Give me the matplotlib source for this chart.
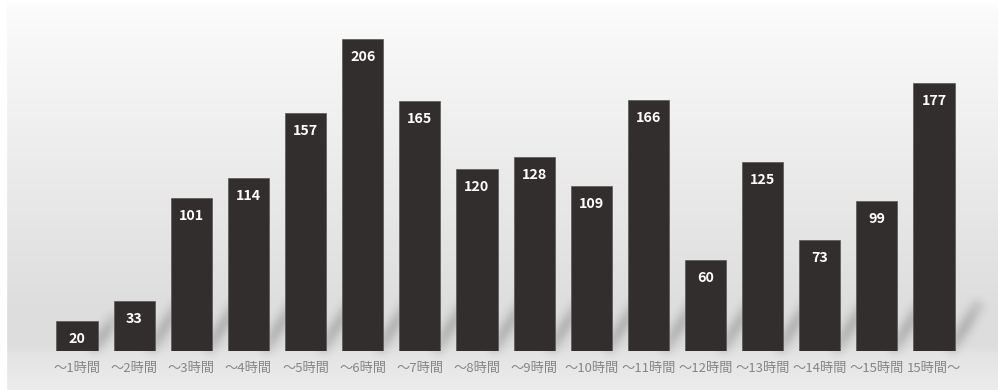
import numpy as np
import matplotlib.pyplot as plt
from matplotlib.colors import LinearSegmentedColormap

plt.rcParams['font.family'] = ['Noto Sans CJK JP', 'DejaVu Sans']

# data
categories = ['～1時間', '～2時間', '～3時間', '～4時間', '～5時間', '～6時間', '～7時間', '～8時間',
              '～9時間', '～10時間', '～11時間', '～12時間', '～13時間', '～14時間', '～15時間', '15時間～']
values = [20, 33, 101, 114, 157, 206, 165, 120, 128, 109, 166, 60, 125, 73, 99, 177]

W, H = 998, 390
fig = plt.figure(figsize=(W / 100, H / 100), dpi=100)

# background gradient
bg = fig.add_axes([0, 0, 1, 1], zorder=0)
grad_cmap = LinearSegmentedColormap.from_list('bg', [
    (0.0, '#ffffff'), (0.02, '#fbfbfb'), (0.35, '#eeeeee'), (0.78, '#dedede'),
    (0.89, '#dddddd'), (0.91, '#e4e4e4'), (1.0, '#ececec')])
bg.imshow(np.linspace(0, 1, 390).reshape(-1, 1), aspect='auto', cmap=grad_cmap,
          extent=[0, 1, 0, 1], origin='upper')
bg.add_patch(plt.Rectangle((0, 0), 0.006, 1, color='white'))
bg.set_xlim(0, 1)
bg.set_ylim(0, 1)
bg.axis('off')

ax = fig.add_axes([0, 0.1, 1, 0.9], zorder=1)
ax.patch.set_alpha(0)
x = np.arange(len(values))
width = 0.72

ax.bar(x, values, width=width, color='#322e2d', edgecolor='#5a5655', linewidth=0.5, zorder=2)

for xi, v in zip(x, values):
    ax.text(xi, v - 11.9, str(v), ha='center', va='center', color='white',
            fontsize=10.3, fontweight='bold', zorder=3)

ax.set_xlim(-1.348, 16.12)
ax.set_ylim(0, 231.7)
ax.set_xticks(x)
ax.set_xticklabels(categories, fontsize=9.5, color='#858585')
ax.tick_params(axis='x', length=0, pad=8)
ax.set_yticks([])
for sp in ax.spines.values():
    sp.set_visible(False)

# soft diagonal shadow streaks to the right of each bar (drawn in pixel space)
yy, xx = np.mgrid[0:H, 0:W] + 0.5
shade = np.zeros((H, W))
for xi, v in zip(x, values):
    px0, py0 = ax.transData.transform((xi + width / 2, 0))
    _, ptop = ax.transData.transform((xi, v))
    dy = min(ptop - py0, 44)
    ax_, ay_ = px0 - 2, py0 + 4
    bx_, by_ = px0 + 0.5 * dy, py0 + dy
    vx, vy = bx_ - ax_, by_ - ay_
    t = np.clip(((xx - ax_) * vx + (yy - ay_) * vy) / (vx * vx + vy * vy), 0, 1)
    d2 = (xx - ax_ - t * vx) ** 2 + (yy - ay_ - t * vy) ** 2
    shade = np.maximum(shade, np.exp(-d2 / (2 * 5.5 ** 2)) * (0.6 + 0.4 * np.sin(np.pi * t)))
rgba = np.zeros((H, W, 4))
rgba[..., 3] = 0.17 * shade
bg.imshow(rgba, extent=[0, 1, 0, 1], origin='lower', aspect='auto', interpolation='bilinear')

fig.savefig('out.png', dpi=100)
